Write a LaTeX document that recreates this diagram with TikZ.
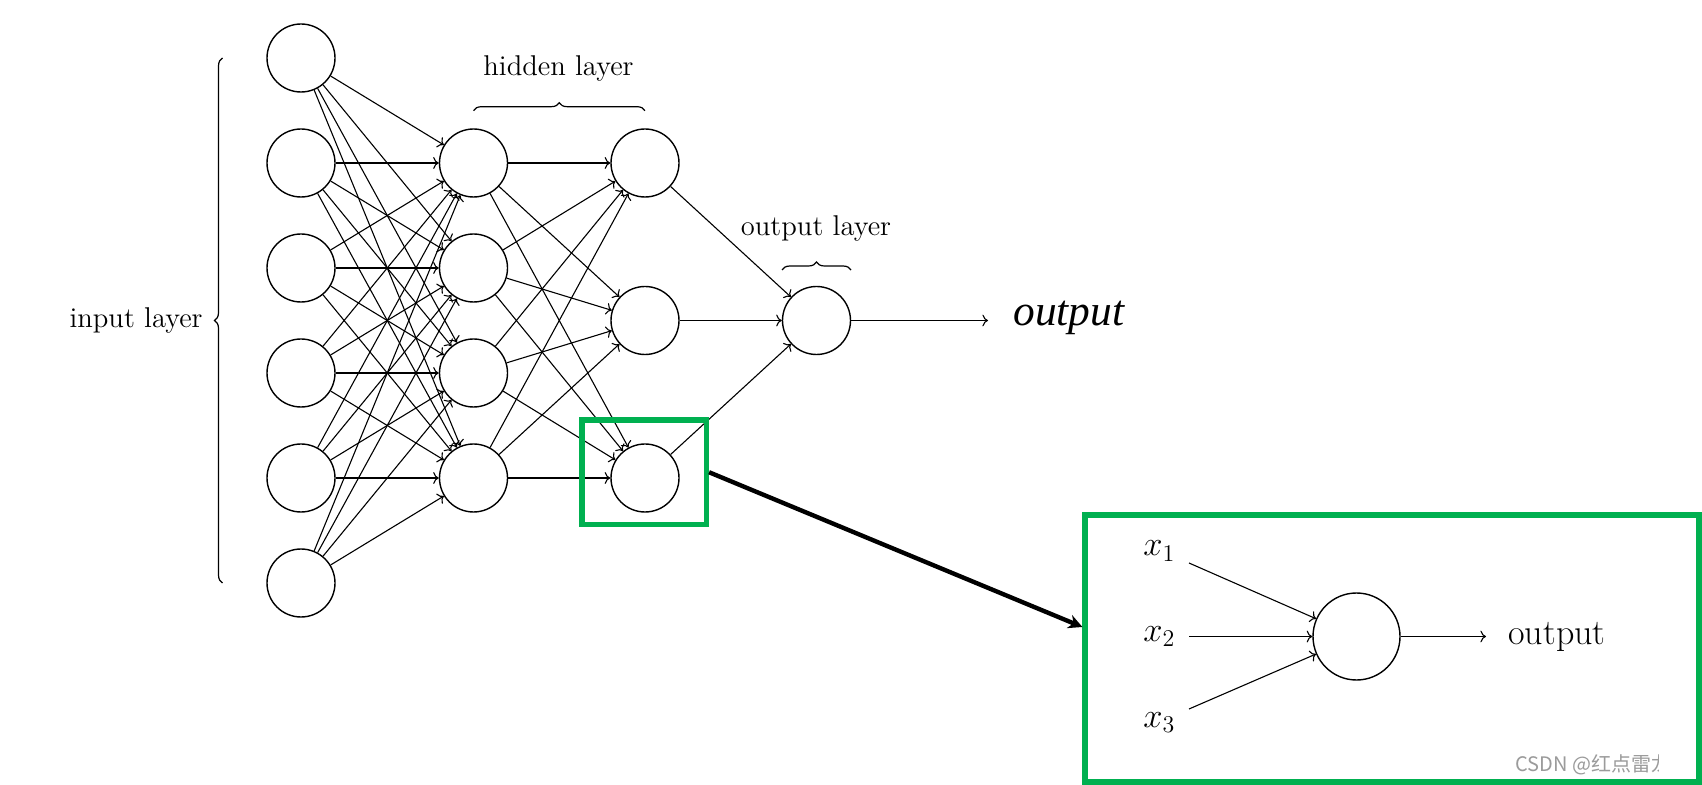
\documentclass[tikz,border=0pt]{standalone}
\usepackage{fontspec}
\newfontfamily\libserif{Liberation Serif}
\newfontfamily\cjkfont{Noto Sans CJK SC}
\usetikzlibrary{arrows.meta,decorations.pathreplacing,calc}
\definecolor{boxgreen}{RGB}{0,176,80}
\definecolor{wmgray}{RGB}{155,155,155}
\begin{document}
\begin{tikzpicture}[x=0.5pt,y=-0.5pt,
  neuron/.style={circle,draw,line width=0.7pt,minimum size=34pt,inner sep=0pt},
  conn/.style={->,line width=0.55pt},
  brc/.style={decorate,decoration={brace,amplitude=4pt},line width=0.6pt},
  lbl/.style={inner sep=0pt,font=\fontsize{14.3}{17}\selectfont},
  insetfont/.style={inner sep=0pt,font=\fontsize{16.5}{20}\selectfont},
  insettext/.style={inner sep=0pt,font=\fontsize{18}{21}\selectfont},
  greenbox/.style={draw=boxgreen,line width=2.6pt,inner sep=0pt},
  bigarrow/.style={line width=2.2pt,-{Stealth[length=7pt,width=7pt]}}
]
\useasboundingbox (0,0) rectangle (1702,785);
\fill[white] (0,0) rectangle (1702,785);

% input layer
\foreach \i/\y in {1/58,2/163,3/268,4/373,5/478,6/583}
  \node[neuron] (I\i) at (301,\y) {};
% hidden layer 1
\foreach \i/\y in {1/163,2/268,3/373,4/478}
  \node[neuron] (H\i) at (473.5,\y) {};
% hidden layer 2
\foreach \i/\y in {1/163,2/320.5,3/478}
  \node[neuron] (G\i) at (645,\y) {};
% output
\node[neuron] (O) at (816.5,320.5) {};

\foreach \i in {1,...,6}
  \foreach \j in {1,...,4}
    \draw[conn] (I\i) -- (H\j);
\foreach \j in {1,...,4}
  \foreach \k in {1,2,3}
    \draw[conn] (H\j) -- (G\k);
\foreach \k in {1,2,3}
  \draw[conn] (G\k) -- (O);

\coordinate (oend) at (988,320.5);
\draw[conn] (O) -- (oend);
\node[anchor=base west,inner sep=0pt,font=\libserif\itshape\fontsize{21.7}{26}\selectfont] (otext) at (1013,326) {output};

% braces
\coordinate (ib1) at (222.5,583);
\coordinate (ib2) at (222.5,58);
\draw[brc] (ib1) -- (ib2);
\coordinate (hb1) at (473.5,110.7);
\coordinate (hb2) at (645,110.7);
\draw[brc] (hb1) -- (hb2);
\coordinate (ob1) at (782,270);
\coordinate (ob2) at (851,270);
\draw[brc] (ob1) -- (ob2);

\node[lbl,anchor=base east] (inlbl) at (203,328) {input layer};
\node[lbl,anchor=base] (hidlbl) at (558.5,76) {hidden layer};
\node[lbl,anchor=base] (outlbl) at (816,236) {output layer};

% green boxes
\node[greenbox,minimum width=62.25pt,minimum height=52.25pt] (box1) at (644.25,472.25) {};
\node[greenbox,minimum width=307pt,minimum height=133.5pt] (box2) at (1392,648.5) {};
\draw[bigarrow] (box1.east) -- ($(box2.west)+(0,-21.5)$);

% inset neuron
\node[neuron,minimum size=43.5pt] (N) at (1356.5,636.5) {};
\node[insetfont,anchor=base west] (x1) at (1143,556) {$x_1$};
\node[insetfont,anchor=base west] (x2) at (1143,641.5) {$x_2$};
\node[insetfont,anchor=base west] (x3) at (1143,727) {$x_3$};
\coordinate (s1) at (1189,563);
\coordinate (s2) at (1189,636.5);
\coordinate (s3) at (1189,709);
\draw[conn] (s1) -- (N);
\draw[conn] (s2) -- (N);
\draw[conn] (s3) -- (N);
\coordinate (nend) at (1486,636.5);
\draw[conn] (N) -- (nend);
\node[insettext,anchor=base west] (nout) at (1508,644) {output};

% watermark
\begin{scope}
  \clip (1500,740) rectangle (1658,785);
  \node[anchor=west,inner sep=0pt,font=\cjkfont\fontsize{10}{12}\selectfont,text=wmgray] (wm) at (1515,765) {CSDN @红点雷龙};
\end{scope}
\end{tikzpicture}
\end{document}
